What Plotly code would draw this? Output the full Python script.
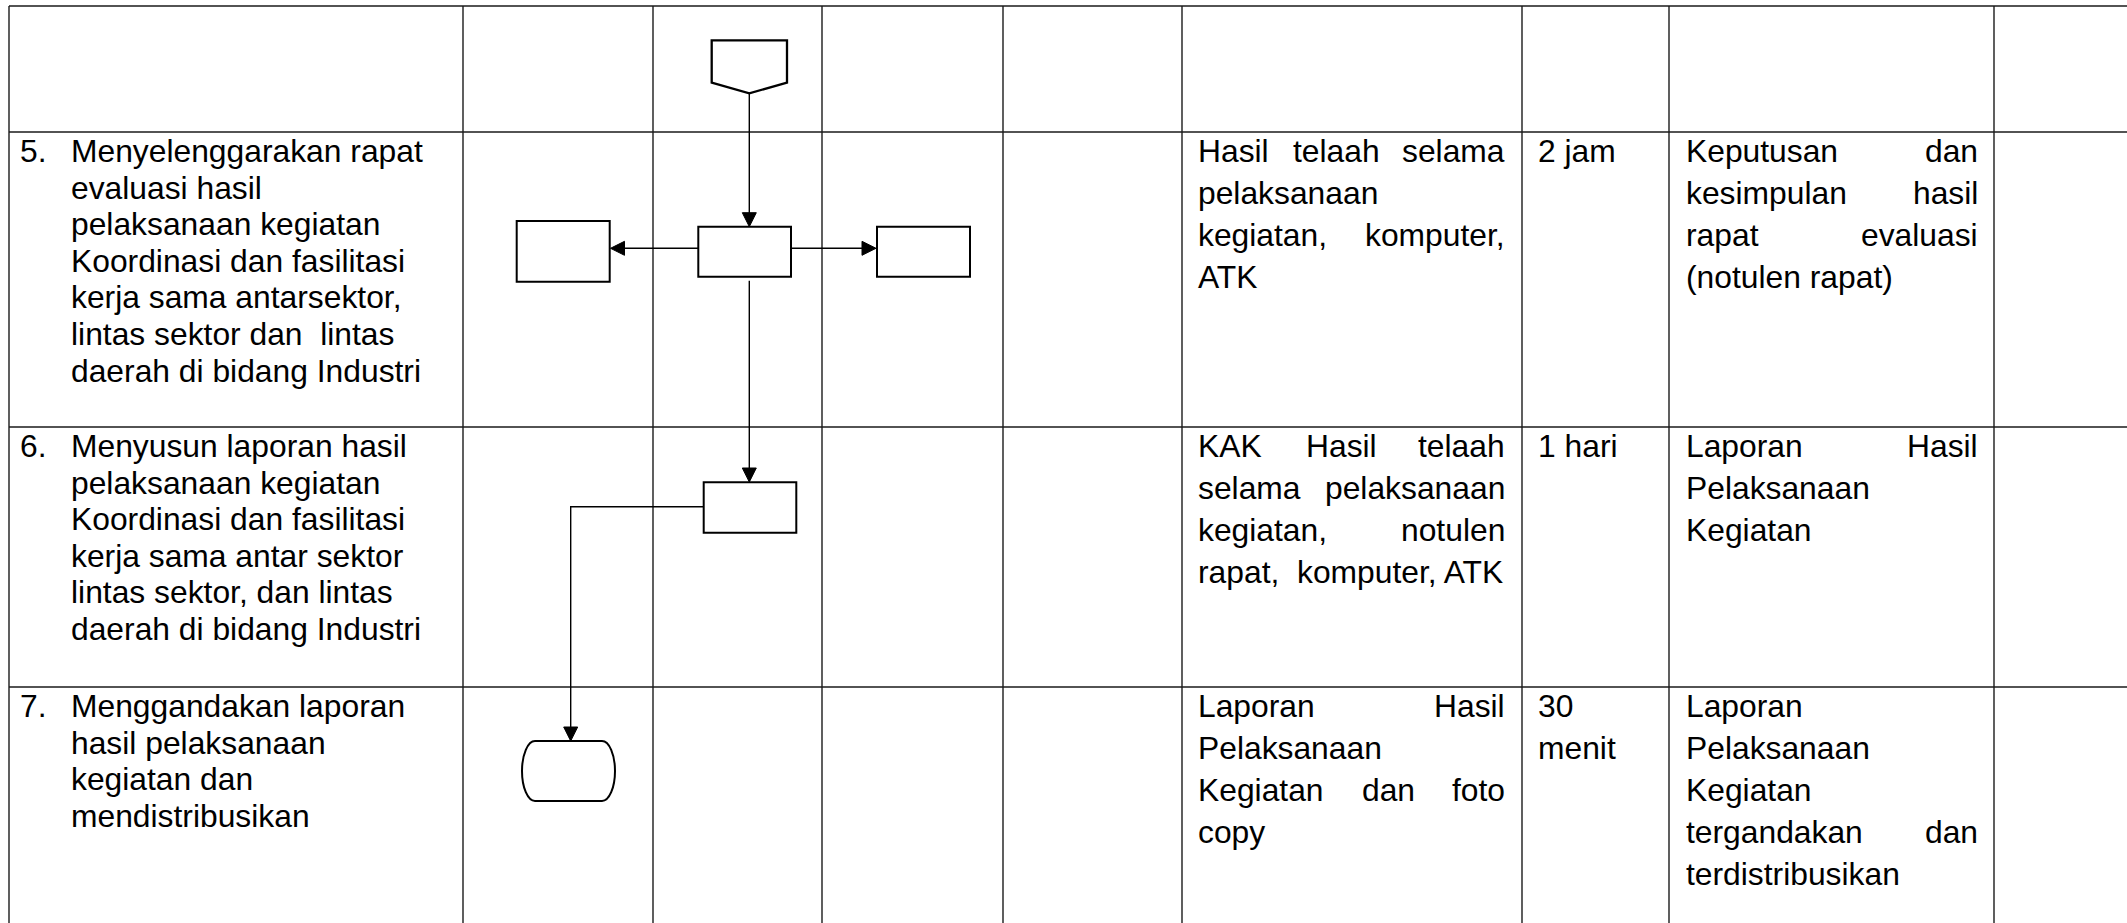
import plotly.graph_objects as go

# ---------------- data (texts of the SOP flow table) ----------------
step_numbers = ["5.", "6.", "7."]
step_texts = [
    ["Menyelenggarakan rapat", "evaluasi hasil", "pelaksanaan kegiatan",
     "Koordinasi dan fasilitasi", "kerja sama antarsektor,",
     "lintas sektor dan\u00a0 lintas", "daerah di bidang Industri"],
    ["Menyusun laporan hasil", "pelaksanaan kegiatan", "Koordinasi dan fasilitasi",
     "kerja sama antar sektor", "lintas sektor, dan lintas", "daerah di bidang Industri"],
    ["Menggandakan laporan", "hasil pelaksanaan", "kegiatan dan", "mendistribusikan"],
]
kelengkapan = [
    ["Hasil telaah selama", "pelaksanaan", "kegiatan, komputer,", "ATK"],
    ["KAK Hasil telaah", "selama pelaksanaan", "kegiatan, notulen", "rapat,\u00a0 komputer, ATK"],
    ["Laporan Hasil", "Pelaksanaan", "Kegiatan dan foto", "copy"],
]
waktu = [["2 jam"], ["1 hari"], ["30", "menit"]]
output = [
    ["Keputusan dan", "kesimpulan hasil", "rapat evaluasi", "(notulen rapat)"],
    ["Laporan Hasil", "Pelaksanaan", "Kegiatan"],
    ["Laporan", "Pelaksanaan", "Kegiatan", "tergandakan dan", "terdistribusikan"],
]

# ---------------- layout geometry ----------------
W, H = 2127, 923
FONT = "Arial, 'Liberation Sans', Helvetica, sans-serif"
FS = 31.8
col_x = [9, 463, 653, 822, 1003, 1182, 1522, 1669, 1994]
row_y = [6, 132, 427, 687]
BASE_OFF = 30          # first baseline below row line
LEFT_SP = 36.6         # line spacing, first column
COL_SP = 42.0          # line spacing, other columns
CENTER_SHIFT = 0.3465 * FS

ARIAL = {' ': 278, ',': 278, '.': 278, '(': 333, ')': 333, '\u00a0': 278}
for d in "0123456789":
    ARIAL[d] = 556
ARIAL.update(dict(A=667, B=667, C=722, D=722, E=667, F=611, G=778, H=722, I=278, J=500,
                  K=667, L=556, M=833, N=722, O=778, P=667, Q=778, R=722, S=667, T=611,
                  U=722, V=667, W=944, X=667, Y=667, Z=611,
                  a=556, b=556, c=500, d=556, e=556, f=278, g=556, h=556, i=222, j=222,
                  k=500, l=222, m=833, n=556, o=556, p=556, q=556, r=333, s=500, t=278,
                  u=556, v=500, w=722, x=500, y=500, z=500))


def tw(s):
    return sum(ARIAL.get(c, 556) for c in s) * FS / 1000.0


fig = go.Figure()
ann = []


def text(x, y_base, s, anchor="left"):
    ann.append(dict(x=x, y=y_base - CENTER_SHIFT, xref="x", yref="y", text=s,
                    showarrow=False, xanchor=anchor, yanchor="middle", borderpad=0,
                    font=dict(family=FONT, size=FS, color="#000000")))


def paragraph(lines, L, R, y0, sp, justify=True):
    for i, ln in enumerate(lines):
        yb = y0 + i * sp
        words = ln.split(" ")
        last = (i == len(lines) - 1)
        if justify and not last and len(words) > 1:
            widths = [tw(w) for w in words]
            gap = (R - L - sum(widths)) / (len(words) - 1)
            xx = L
            for k, w in enumerate(words):
                if k == len(words) - 1:
                    text(R, yb, w, "right")
                else:
                    text(xx, yb, w, "left")
                xx += widths[k] + gap
        else:
            text(L, yb, ln, "left")


for r in range(3):
    top = row_y[r + 1]
    yb = top + BASE_OFF
    text(col_x[0] + 10, yb, step_numbers[r])
    paragraph(step_texts[r], 70, col_x[1] - 10, yb, LEFT_SP, justify=False)
    paragraph(kelengkapan[r], col_x[5] + 15, col_x[6] - 16, yb, COL_SP)
    paragraph(waktu[r], col_x[6] + 15, col_x[7] - 10, yb, COL_SP, justify=False)
    paragraph(output[r], col_x[7] + 16, col_x[8] - 15, yb, COL_SP)

shapes = []
GRID = dict(color="#1a1a1a", width=1.4)
for x in col_x:
    shapes.append(dict(type="line", x0=x, x1=x, y0=row_y[0], y1=H, line=GRID))
for y in row_y:
    shapes.append(dict(type="line", x0=col_x[0], x1=W, y0=y, y1=y, line=GRID))

BOX = dict(color="#000000", width=2)
CON = dict(color="#000000", width=1.4)


def rect(x0, y0, x1, y1):
    shapes.append(dict(type="rect", x0=x0, x1=x1, y0=y0, y1=y1, line=BOX,
                       fillcolor="white", layer="above"))


def seg(pts):
    p = "M %g %g " % pts[0] + " ".join("L %g %g" % q for q in pts[1:])
    shapes.append(dict(type="path", path=p, line=CON, layer="above"))


def head(x, y, d, n=14, w=7):
    if d == "down":
        p = "M %g %g L %g %g L %g %g Z" % (x, y, x - w, y - n, x + w, y - n)
    elif d == "left":
        p = "M %g %g L %g %g L %g %g Z" % (x, y, x + n, y - w, x + n, y + w)
    else:
        p = "M %g %g L %g %g L %g %g Z" % (x, y, x - n, y - w, x - n, y + w)
    shapes.append(dict(type="path", path=p, fillcolor="black",
                       line=dict(color="black", width=1), layer="above"))


# off-page connector (pentagon)
cx = 749.3
shapes.append(dict(type="path",
                   path="M 711.7 40.3 L 787 40.3 L 787 82.7 L %g 93.3 L 711.7 82.7 Z" % cx,
                   line=dict(color="black", width=2.3), fillcolor="white", layer="above"))
seg([(cx, 93.3), (cx, 213)])
head(cx, 226.7, "down")
# row 5 boxes
rect(698.3, 226.7, 791, 276.7)
rect(516.7, 221, 609.7, 281.7)
rect(877, 226.7, 970, 276.7)
seg([(698.3, 248.3), (623, 248.3)])
head(610.5, 248.3, "left")
seg([(791, 248.3), (863, 248.3)])
head(876, 248.3, "right")
# down to row 6 box
seg([(cx, 280.7), (cx, 468)])
head(cx, 482, "down")
rect(703.7, 482.3, 796.3, 532.7)
seg([(703.7, 506.7), (570.7, 506.7), (570.7, 727)])
head(570.7, 741, "down")
# terminator
k = 0.5523
x0, x1, ya, yb2, rx, ry = 535, 602, 741, 801, 13, 30
ym = (ya + yb2) / 2
term = ("M %g %g L %g %g C %g %g %g %g %g %g C %g %g %g %g %g %g L %g %g "
        "C %g %g %g %g %g %g C %g %g %g %g %g %g Z") % (
    x0, ya, x1, ya,
    x1 + rx * k, ya, x1 + rx, ym - ry * k, x1 + rx, ym,
    x1 + rx, ym + ry * k, x1 + rx * k, yb2, x1, yb2,
    x0, yb2,
    x0 - rx * k, yb2, x0 - rx, ym + ry * k, x0 - rx, ym,
    x0 - rx, ym - ry * k, x0 - rx * k, ya, x0, ya)
shapes.append(dict(type="path", path=term, line=BOX, fillcolor="white", layer="above"))

fig.update_layout(
    width=W, height=H, margin=dict(l=0, r=0, t=0, b=0, pad=0),
    paper_bgcolor="white", plot_bgcolor="white", showlegend=False,
    xaxis=dict(range=[0, W], visible=False, fixedrange=True),
    yaxis=dict(range=[H, 0], visible=False, fixedrange=True),
    shapes=shapes, annotations=ann,
)
fig.write_html("out.html", config={"displayModeBar": False, "staticPlot": True},
               post_script="document.body.style.margin='0';document.body.style.overflow='hidden';")
